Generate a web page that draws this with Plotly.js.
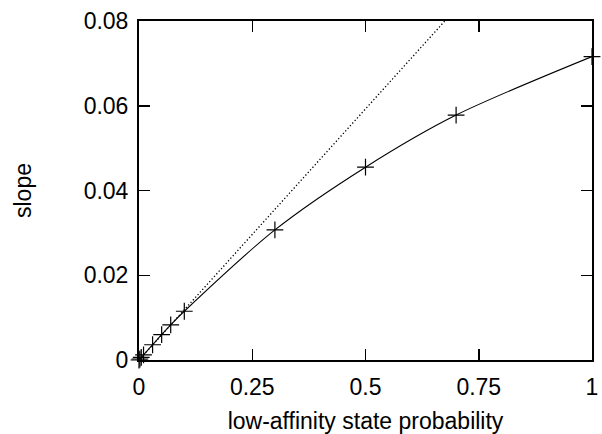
<!DOCTYPE html>
<html>
<head>
<meta charset="utf-8">
<script src="https://cdn.plot.ly/plotly-3.0.1.min.js"></script>
<style>html,body{margin:0;padding:0;background:#fff;}#chart{width:602px;height:434px;}</style>
</head>
<body>
<div id="chart"></div>
<script>
// Data
const probability = [0, 0.002, 0.005, 0.01, 0.03, 0.05, 0.07, 0.1, 0.3, 0.5, 0.7, 1];
const slopeValues = [0, 0.00024, 0.0006, 0.0012, 0.0036, 0.006, 0.0083, 0.0115, 0.0307, 0.0455, 0.0578, 0.0716];
const tangentX = [0, 1];
const tangentY = [0, 0.1185];
const xTickVals = [0, 0.25, 0.5, 0.75, 1];
const xTickText = ['0', '0.25', '0.5', '0.75', '1'];
const yTickVals = [0, 0.02, 0.04, 0.06, 0.08];
const yTickText = ['0', '0.02', '0.04', '0.06', '0.08'];

const font = {family: 'Liberation Sans, Arial, sans-serif', size: 23, color: '#000'};

const traces = [
  {x: tangentX, y: tangentY, mode: 'lines', line: {color: '#000', width: 1.3, dash: '1.3px,2.2px'}, hoverinfo: 'skip'},
  {x: probability, y: slopeValues, mode: 'lines', line: {color: '#000', width: 1.1, shape: 'spline', smoothing: 0.8}},
  {x: probability, y: slopeValues, mode: 'markers', cliponaxis: false,
   marker: {symbol: 'cross-thin-open', size: 12, color: '#000', line: {color: '#000', width: 1.2}}}
];

const axisCommon = {
  showline: true, linecolor: '#000', linewidth: 2, mirror: 'ticks',
  ticks: 'inside', ticklen: 11, tickwidth: 1.5, tickcolor: '#000',
  showgrid: false, zeroline: false, tickfont: font
};

const layout = {
  width: 602, height: 434,
  margin: {l: 139, r: 10, t: 21, b: 74},
  paper_bgcolor: '#fff', plot_bgcolor: '#fff',
  showlegend: false,
  font: font,
  xaxis: Object.assign({}, axisCommon, {
    range: [0, 1], tickvals: xTickVals, ticktext: xTickText,
    ticklabelstandoff: 5,
    title: {text: 'low-affinity state probability', font: font, standoff: 16}
  }),
  yaxis: Object.assign({}, axisCommon, {
    range: [0, 0.08], tickvals: yTickVals, ticktext: yTickText,
    ticklabelstandoff: 4,
    title: {text: 'slope', font: font, standoff: 46}
  })
};

Plotly.newPlot('chart', traces, layout, {staticPlot: true, displayModeBar: false});
</script>
</body>
</html>
